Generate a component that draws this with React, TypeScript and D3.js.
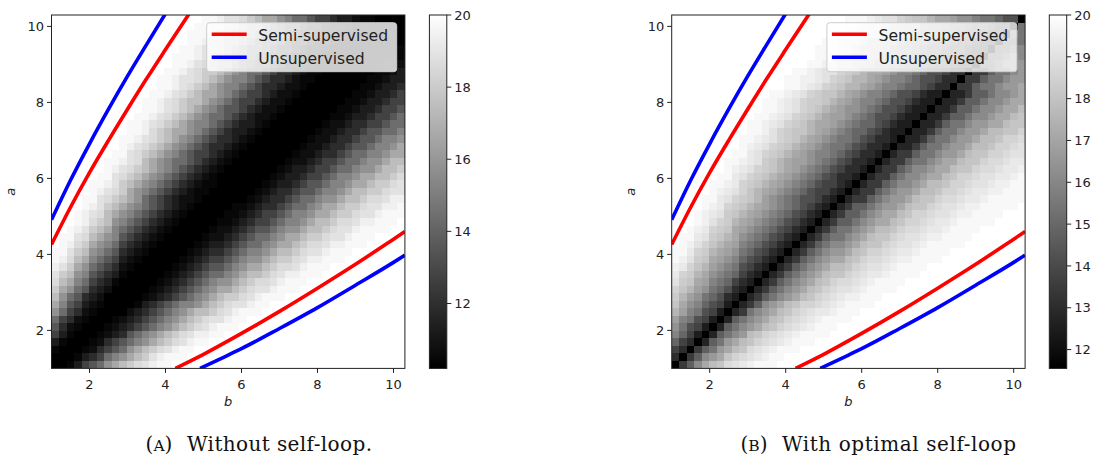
import React from "react";
import * as d3 from "d3";

const WIDTH = 1094;
const HEIGHT = 460;

// ---- axes (a on y, b on x) ----
const axisDomain: [number, number] = [1, 10.3];
const cellCount = 47;
const axisTickValues = [2, 4, 6, 8, 10];

// ---- colour bars ----
const colorRangeA: [number, number] = [10.2, 20];
const colorRangeB: [number, number] = [11.55, 20];
const colorTicksA = [12, 14, 16, 18, 20];
const colorTicksB = [12, 13, 14, 15, 16, 17, 18, 19, 20];

// ---- heat-map cells ----
// rows go from a = 1 (bottom) to a = 10.3 (top); each string holds the cells
// of one row starting at column rowStart[row]; every other cell is the maximum (20).
// one base-36 character per cell: 0 = colour-bar minimum, z = colour-bar maximum.
const rowStart = [
  0, 0, 0, 0, 0, 0, 0, 0, 0, 0, 0, 0, 0, 0, 0, 0, 1, 1, 2, 3, 3, 4, 4, 5, 5, 6, 7, 7, 8, 9, 9, 10,
  10, 11, 12, 12, 13, 14, 14, 15, 16, 16, 17, 18, 18, 19, 20,
];

const gridA = [
  "00149cfknqsuvxyy",
  "0001469fiknqsvxyyy",
  "10001269cfknqsuvxyy",
  "410001269cfiknqsuvxyy",
  "9410001246cfiknqsuvxxyy",
  "c62100012469cfiknqsuvxyyy",
  "f962100012469cfiknqsuvvxyy",
  "kf962100002469cfiknqqsuvxyyy",
  "nic942100001469cfiiknqsuvvxyy",
  "qkfc6420000012469cfiknqssuvxyyy",
  "snkfc6420000012469cfiknnqsuvvxyyy",
  "uqnif96410000012469cfikknqsuuvxyyy",
  "vsqkic96410000012469cffiknqqsuvxxyyy",
  "xvsnkfc96210000012469ccfiknnqsuuvxyyy",
  "yxuqnifc942100000124699cfikknqssuvxxyyy",
  "yyvsqkifc642100000124669cfiiknqqsuvvxyyy",
  "yxusnkif9642100000124469cffiknnqsuuvxxyyy",
  "yyvuqnkic9642100000122469cffiknnqssuvvxyyy",
  "yxvsqnifc9642100000122469ccfikknqqsuvvxyyyy",
  "yxusqkifc96421000001124699cfiiknqqsuuvxxyyy",
  "yxvuqnkifc96421000001124699cfiiknnqssuvvxyyy",
  "yxvsqnkifc96421000001124669cffiknnqssuvvxxy",
  "yyvusqnkfc964221000000124669cffikknqqsuuvxx",
  "yxvusnkifc964211000000124669ccfiiknqqssuvv",
  "yyxvsqnkifc964211000000124469ccfiiknnqssuv",
  "yyvusqnkifc9642100000001244699cfiiknnqqsu",
  "yxvusqnkifc9642100000001244699cffikknqqs",
  "yyxvuqnkiffc9642100000001224699cffikknqq",
  "yyvusqnkifc99642100000001224669cffiiknn",
  "yxvusqnkifc96642100000001224669ccfiikn",
  "yyxvusqnkifc96642100000001224669ccfiik",
  "yyxusqnnkifc96442100000001224669ccffi",
  "yyxvusqnkiifc964421000000012246699cff",
  "yyxvusqnkiffc964221000000011244699cf",
  "yyxvusqnkifcc964221000000011244699c",
  "yyxvusqqnkifc9964221000000011244699",
  "yyxvusqnnkifc996422100000001124469",
  "yyxvusqnkiifc96642210000000112446",
  "yyxvvusqnkiifc9664211000000011244",
  "yyxvussqnkiffc966421100000001124",
  "yyxvusqqnkiffc96642110000000112",
  "yyyxvusqnnkifcc9644211000000011",
  "yyxvvusqnkkifcc964421100000001",
  "yyxvussqnkiifc996442110000000",
  "yyyxvusqqnkiifc99644211000000",
  "yyxxvusqqnkiffc9964421100000",
  "yyxvvusqnnkiffc996442110000",
];

const gridB = [
  "08djnqruvwxyyyzz",
  "608djlnrtuvwxyyzzz",
  "9608dglnqruvwxyyyzz",
  "e9605dglnqrtuvwxyyyzz",
  "ie9405dgjlqrtuvwxyyyyzz",
  "kgb9405dgjlnqrtuvwxyyyzzz",
  "migb9405dgjlnqrtuvwxyyyyzz",
  "pmigb94058gjlnqrtuvwwxyyyzzz",
  "rnkieb94058djlnqrttuvwxyyyyzz",
  "spmkgeb64058dgjlnqrtuvwxxyyyzzz",
  "trpmkgeb64058dgjlnqrtuvvwxyyyyzzz",
  "vsrnmige964058dgjlnqrtuuvwxyyyyzzz",
  "wtspnkige964058dgjlnqrrtuvwwxyyyyzzz",
  "xwtrpmkigb964058dgjlnqqrtuvvwxyyyyzzz",
  "yxvsrnmkieb964058dgjlnnqrtuuvwxxyyyyzzz",
  "yywtspnmkgeb964058dgjllnqrttuvwwxyyyyzzz",
  "yxvtrpnmigeb964058dgjjlnqrrtuvvwxyyyyyzzz",
  "yywvsrpnkigeb964058dggjlnqrrtuvvwxxyyyyzzz",
  "yxwtsrnmkigeb964058dggjlnqqrtuuvwwxyyyyzzzz",
  "yxvtspnmkigeb964058ddgjlnnqrttuvwwxyyyyyzzz",
  "yxwvsrpnmkigeb964058ddgjlnnqrttuvvwxxyyyyzzz",
  "yxwtsrpnmkigeb964058ddgjllnqrrtuvvwxxyyyyyz",
  "yywvtsrpmkigebb9640588dgjllnqrrtuuvwwxyyyyy",
  "yxwvtrpnmkigeb99640588dgjllnqqrttuvwwxxyyy",
  "yyxwtsrpnmkigeb99640588dgjjlnqqrttuvvwxxyy",
  "yywvtsrpnmkigeb96640588dgjjlnnqrttuvvwwxy",
  "yxwvtsrpnmkigeb96640588dgjjlnnqrrtuuvwwx",
  "yyxwvsrpnmmkigeb96640588dggjlnnqrrtuuvww",
  "yywvtsrpnmkiigeb96640588dggjllnqrrttuvv",
  "yxwvtsrpnmkiggeb96640558dggjllnqqrttuv",
  "yyxwvtsrpnmkiggeb96640558dggjllnqqrttu",
  "yyxvtsrrpnmkigeeb96440558dggjllnqqrrt",
  "yyxwvtsrpnnmkigeeb96440558dggjllnnqrr",
  "yyxwvtsrpnmmkigebb96440558ddgjjlnnqr",
  "yyxwvtsrpnmkkigebb96440558ddgjjlnnq",
  "yyxwvtssrpnmkiigebb96440558ddgjjlnn",
  "yyxwvtsrrpnmkiigebb96440558ddgjjln",
  "zyyxwvtsrppnmkiigeeb966088dggjlln",
  "zyyxxwvtsrppnmkiigebb966088dggjll",
  "zyyxwvvtsrpnnmkiigebb966088dggjl",
  "zzyyxwvvtsrppnmkkigeeb990ddgjjl",
  "zzzyyxwvttsrpnnmkiigeeb990ddgjj",
  "zzyyyxwvtssrpnnmkiigeeb990ddgj",
  "zzyyxwwvtsrrpnmmkiigeeb990ddg",
  "zzzzyyxwwvtssrpnnmkkiggebb0gg",
  "zzzzyyxwwvtsrrpnnmkkiggebb0g",
  "zzzyyyxwvvtsrrpnnmkkiggebb0",
];

// ---- threshold curves, points (b, a) ----
const semiUpper: [number, number][] = [
  [1, 4.26], [1.5, 5.24], [2, 6.15], [2.5, 7.0], [3, 7.82], [3.5, 8.62], [4, 9.39], [4.7, 10.45],
];
const semiLower: [number, number][] = [
  [4.26, 1], [5, 1.37], [6, 1.92], [7, 2.5], [8, 3.11], [9, 3.74], [10, 4.4], [10.3, 4.6],
];
const unsupUpper: [number, number][] = [
  [1, 4.91], [1.5, 5.95], [2, 6.91], [2.5, 7.82], [3, 8.69], [3.5, 9.52], [4.1, 10.5],
];
const unsupLower: [number, number][] = [
  [4.91, 1], [5.5, 1.28], [6, 1.52], [7, 2.05], [8, 2.6], [9, 3.19], [10, 3.79], [10.3, 3.98],
];

const legendItems = [
  { label: "Semi-supervised", color: "#ff0000" },
  { label: "Unsupervised", color: "#0000ff" },
];

const captions = [
  { letter: "A", text: "Without self-loop." },
  { letter: "B", text: "With optimal self-loop" },
];

const TICK_FONT = "'DejaVu Sans', sans-serif";
const TEXT_COLOR = "#222";

type PanelProps = {
  id: string;
  left: number;
  grid: string[];
  crange: [number, number];
  cticks: number[];
  cbarLeft: number;
  caption: { letter: string; text: string };
  captionLabelMid: number;
  captionTextX: number;
  captionTextLen: number;
};

const PLOT_TOP = 15;
const PLOT_SIZE = 353.4;

function Panel(p: PanelProps) {
  const bottom = PLOT_TOP + PLOT_SIZE;
  const right = p.left + PLOT_SIZE;
  const x = d3.scaleLinear().domain(axisDomain).range([p.left, right]);
  const y = d3.scaleLinear().domain(axisDomain).range([bottom, PLOT_TOP]);
  const color = d3
    .scaleLinear<string>()
    .domain(p.crange)
    .range(["#000000", "#ffffff"])
    .clamp(true);
  const step = (axisDomain[1] - axisDomain[0]) / cellCount;
  const edges = d3.range(cellCount + 1).map((k) => axisDomain[0] + k * step);

  const cells: React.ReactNode[] = [];
  for (let i = 0; i < cellCount; i++) {
    const row = p.grid[i] || "";
    const y0 = Math.round(y(edges[i + 1]));
    const y1 = Math.round(y(edges[i]));
    for (let j = 0; j < cellCount; j++) {
      const k = j - rowStart[i];
      const ch = k >= 0 && k < row.length ? row[k] : "z";
      const v = p.crange[0] + (parseInt(ch, 36) / 35) * (p.crange[1] - p.crange[0]);
      const x0 = Math.round(x(edges[j]));
      const x1 = Math.round(x(edges[j + 1]));
      cells.push(
        <rect key={`${i}-${j}`} x={x0} y={y0} width={x1 - x0} height={y1 - y0} fill={color(v)} />
      );
    }
  }

  const line = d3
    .line<[number, number]>()
    .x((d) => x(d[0]))
    .y((d) => y(d[1]))
    .curve(d3.curveMonotoneX);

  const cbarW = 17.4;
  const cy = d3.scaleLinear().domain(p.crange).range([bottom, PLOT_TOP]);
  const clipId = `clip-${p.id}`;
  const gradId = `grad-${p.id}`;

  const legX = right - 198.2;
  const legY = 22.7;

  return (
    <g>
      <defs>
        <clipPath id={clipId}>
          <rect x={p.left} y={PLOT_TOP} width={PLOT_SIZE} height={PLOT_SIZE} />
        </clipPath>
        <linearGradient id={gradId} x1="0" y1="1" x2="0" y2="0">
          <stop offset="0" stopColor={color(p.crange[0])} />
          <stop offset="1" stopColor={color(p.crange[1])} />
        </linearGradient>
      </defs>
      <g shapeRendering="crispEdges">{cells}</g>
      <g clipPath={`url(#${clipId})`} fill="none" strokeWidth={3.6} strokeLinecap="butt">
        <path d={line(semiUpper) || ""} stroke={legendItems[0].color} />
        <path d={line(semiLower) || ""} stroke={legendItems[0].color} />
        <path d={line(unsupUpper) || ""} stroke={legendItems[1].color} />
        <path d={line(unsupLower) || ""} stroke={legendItems[1].color} />
      </g>
      <rect x={p.left} y={PLOT_TOP} width={PLOT_SIZE} height={PLOT_SIZE} fill="none" stroke="#222" strokeWidth={1} />
      {axisTickValues.map((t) => (
        <g key={`xt${t}`}>
          <line x1={x(t)} x2={x(t)} y1={bottom} y2={bottom + 4.5} stroke="#222" strokeWidth={1} />
          <text x={x(t)} y={bottom + 21} textAnchor="middle" fontFamily={TICK_FONT} fontSize={13} fill={TEXT_COLOR}>
            {t}
          </text>
        </g>
      ))}
      {axisTickValues.map((t) => (
        <g key={`yt${t}`}>
          <line x1={p.left - 4.5} x2={p.left} y1={y(t)} y2={y(t)} stroke="#222" strokeWidth={1} />
          <text x={p.left - 7.5} y={y(t) + 4.7} textAnchor="end" fontFamily={TICK_FONT} fontSize={13} fill={TEXT_COLOR}>
            {t}
          </text>
        </g>
      ))}
      <text x={(p.left + right) / 2} y={bottom + 38} textAnchor="middle" fontFamily={TICK_FONT} fontStyle="italic" fontSize={13} fill={TEXT_COLOR}>
        b
      </text>
      <text
        transform={`translate(${p.left - 36.5},${(PLOT_TOP + bottom) / 2}) rotate(-90)`}
        textAnchor="middle"
        fontFamily={TICK_FONT}
        fontStyle="italic"
        fontSize={13}
        fill={TEXT_COLOR}
      >
        a
      </text>
      <rect x={legX} y={legY} width={190} height={49} rx={3} fill="#ffffff" fillOpacity={0.8} stroke="#cccccc" strokeWidth={1} />
      {legendItems.map((it, idx) => (
        <g key={it.label}>
          <line x1={legX + 5} x2={legX + 40} y1={legY + 11.6 + idx * 23} y2={legY + 11.6 + idx * 23} stroke={it.color} strokeWidth={3.6} />
          <text x={legX + 51.6} y={legY + 18 + idx * 23} fontFamily={TICK_FONT} fontSize={15.6} fill={TEXT_COLOR}>
            {it.label}
          </text>
        </g>
      ))}
      <rect x={p.cbarLeft} y={PLOT_TOP} width={cbarW} height={PLOT_SIZE} fill={`url(#${gradId})`} stroke="#222" strokeWidth={1} />
      {p.cticks.map((t) => (
        <g key={`ct${t}`}>
          <line x1={p.cbarLeft + cbarW} x2={p.cbarLeft + cbarW + 4.5} y1={cy(t)} y2={cy(t)} stroke="#222" strokeWidth={1} />
          <text x={p.cbarLeft + cbarW + 7.5} y={cy(t) + 4.7} fontFamily={TICK_FONT} fontSize={13} fill={TEXT_COLOR}>
            {t}
          </text>
        </g>
      ))}
      <text
        x={p.captionLabelMid}
        y={451}
        textAnchor="middle"
        fontFamily="'DejaVu Serif', serif"
        fontSize={20}
        fill="#111"
      >
        (<tspan fontSize={15.5}>{p.caption.letter}</tspan>)
      </text>
      <text
        x={p.captionTextX}
        y={451}
        fontFamily="'DejaVu Serif', serif"
        fontSize={20}
        fill="#111"
        textLength={p.captionTextLen}
        lengthAdjust="spacing"
      >
        {p.caption.text}
      </text>
    </g>
  );
}

export default function App() {
  return (
    <svg
      width={WIDTH}
      height={HEIGHT}
      viewBox={`0 0 ${WIDTH} ${HEIGHT}`}
      style={{ position: "absolute", left: 0, top: 0, background: "#fff" }}
    >
      <rect x={0} y={0} width={WIDTH} height={HEIGHT} fill="#ffffff" />
      <Panel
        id="A"
        left={51.5}
        grid={gridA}
        crange={colorRangeA}
        cticks={colorTicksA}
        cbarLeft={429.4}
        caption={captions[0]}
        captionLabelMid={159}
        captionTextX={187}
        captionTextLen={185}
      />
      <Panel
        id="B"
        left={671.7}
        grid={gridB}
        crange={colorRangeB}
        cticks={colorTicksB}
        cbarLeft={1049.3}
        caption={captions[1]}
        captionLabelMid={754}
        captionTextX={782}
        captionTextLen={234}
      />
    </svg>
  );
}
